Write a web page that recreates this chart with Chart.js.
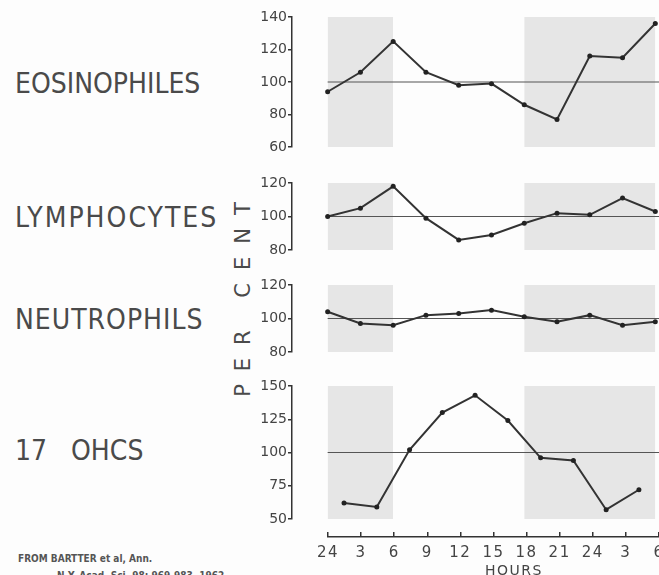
<!DOCTYPE html>
<html>
<head>
<meta charset="utf-8">
<script src="https://cdn.jsdelivr.net/npm/chart.js@4/dist/chart.umd.min.js"></script>
<style>
  html, body { margin: 0; padding: 0; background: #fdfdfd; overflow: hidden; width: 659px; height: 575px; }
  .box { position: absolute; }
  .name {
    position: absolute; left: 15px;
    font-family: "DejaVu Sans Condensed", "DejaVu Sans", sans-serif;
    font-size: 28px; color: #4a4a4a; letter-spacing: 1px; white-space: nowrap;
    line-height: 1;
  }
  .percent {
    position: absolute; left: 243px; top: 293px;
    transform: translate(-50%, -50%) rotate(-90deg);
    font-family: "DejaVu Sans", sans-serif; font-size: 21px; color: #4a4a4a;
    letter-spacing: 13px; white-space: nowrap; line-height: 1;
  }
  .source {
    position: absolute; left: 18px;
    font-family: "DejaVu Sans Condensed", "DejaVu Sans", sans-serif; font-weight: bold; font-size: 10px; color: #555;
    white-space: nowrap;
  }
</style>
</head>
<body>
<div class="name" style="top:70px; letter-spacing:0">EOSINOPHILES</div>
<div class="name" style="top:204px; letter-spacing:2px">LYMPHOCYTES</div>
<div class="name" style="top:306px">NEUTROPHILS</div>
<div class="name" style="top:437px; letter-spacing:0">17<span style="margin-left:24px">OHCS</span></div>
<div class="percent">PER CENT</div>
<div class="source" style="top:553px">FROM BARTTER et al, Ann.</div>
<div class="source" style="top:570px; left:57px">N.Y. Acad. Sci. 98: 969-983, 1962</div>

<div class="box" id="b1" style="left:252px; top:7px; width:448px; height:150px"><canvas id="eosChart"></canvas></div>
<div class="box" id="b2" style="left:252px; top:173px; width:448px; height:87px"><canvas id="lymChart"></canvas></div>
<div class="box" id="b3" style="left:252px; top:275px; width:448px; height:87px"><canvas id="neuChart"></canvas></div>
<div class="box" id="b4" style="left:252px; top:376px; width:448px; height:153px"><canvas id="ohcsChart"></canvas></div>
<div class="box" id="b5" style="left:300px; top:530px; width:400px; height:50px"><canvas id="hourChart"></canvas></div>

<script>
// hours after midnight, sampled every 3 h
const hours = [0, 3, 6, 9, 12, 15, 18, 21, 24, 27, 30];
const eosinophiles = [94, 106, 125, 106, 98, 99, 86, 77, 116, 115, 136];
const lymphocytes = [100, 105, 118, 99, 86, 89, 96, 102, 101, 111, 103];
const neutrophils = [104, 97, 96, 102, 103, 105, 101, 98, 102, 96, 98];

// steroid samples sit in the middle of each 3 h collection
const ohcsHours = [1.5, 4.5, 7.5, 10.5, 13.5, 16.5, 19.5, 22.5, 25.5, 28.5];
const ohcs = [62, 59, 102, 130, 143, 124, 96, 94, 57, 72];

// dark (night) periods
const nightBands = [[0, 6], [18, 30]];

const eosTicks = [60, 80, 100, 120, 140];
const lymTicks = [80, 100, 120];
const neuTicks = [80, 100, 120];
const ohcsTicks = [50, 75, 100, 125, 150];

const hourTicks = [0, 3, 6, 9, 12, 15, 18, 21, 24, 27, 30];
const hourLabels = ['24', '3', '6', '9', '12', '15', '18', '21', '24', '3', '6'];

const INK = '#333';
const SHADE = '#e6e6e6';
const PX_HOUR = 11.03;
const AXIS_W = 40;
// y axis line sits 36px left of hour 0
const xMin = -36 / PX_HOUR;
const xMax = xMin + (448 - AXIS_W) / PX_HOUR;

function makePanel(id, xs, values, ticks) {
    const lo = ticks[0];
    const hi = ticks[ticks.length - 1];

    const bands = nightBands.map(b => ({
        data: [{ x: b[0], y: hi }, { x: b[1], y: hi }],
        borderWidth: 0,
        pointRadius: 0,
        backgroundColor: SHADE,
        fill: 'start',
        order: 3
    }));

    return new Chart(document.getElementById(id), {
        type: 'line',
        data: {
            datasets: [
                ...bands,
                {
                    data: [{ x: 0, y: 100 }, { x: xMax, y: 100 }],
                    borderColor: '#555',
                    borderWidth: 1.2,
                    pointRadius: 0,
                    order: 2
                },
                {
                    data: xs.map((h, i) => ({ x: h, y: values[i] })),
                    borderColor: INK,
                    borderWidth: 2,
                    pointRadius: 2.5,
                    pointBackgroundColor: '#222',
                    pointBorderWidth: 0,
                    tension: 0,
                    order: 1
                }
            ]
        },
        options: {
            responsive: true,
            maintainAspectRatio: false,
            animation: false,
            layout: { padding: { top: 10, bottom: 10 } },
            plugins: { legend: { display: false }, tooltip: { enabled: false } },
            scales: {
                x: { type: 'linear', min: xMin, max: xMax, display: false },
                y: {
                    min: lo,
                    max: hi,
                    afterBuildTicks: s => { s.ticks = ticks.map(v => ({ value: v })); },
                    afterFit: s => { s.width = AXIS_W; },
                    grid: { drawOnChartArea: false, tickLength: 4, color: INK, lineWidth: 1.5 },
                    border: { color: INK, width: 1.5 },
                    ticks: {
                        padding: 1,
                        color: '#444',
                        font: { family: 'DejaVu Sans', size: 14 }
                    }
                }
            }
        }
    });
}

makePanel('eosChart', hours, eosinophiles, eosTicks);
makePanel('lymChart', hours, lymphocytes, lymTicks);
makePanel('neuChart', hours, neutrophils, neuTicks);
makePanel('ohcsChart', ohcsHours, ohcs, ohcsTicks);

// spaced lettering on the time axis
const spacedText = {
    id: 'spacedText',
    beforeDraw(chart) { chart.ctx.letterSpacing = '1.5px'; }
};

// time axis on its own, ticks point up into a thin chart area
new Chart(document.getElementById('hourChart'), {
    type: 'line',
    data: { datasets: [] },
    plugins: [spacedText],
    options: {
        responsive: true,
        maintainAspectRatio: false,
        animation: false,
        layout: { padding: { top: 2, left: 28, right: 0 } },
        plugins: { legend: { display: false }, tooltip: { enabled: false } },
        scales: {
            x: {
                type: 'linear',
                min: 0,
                max: (400 - 28) / PX_HOUR,
                afterBuildTicks: s => { s.ticks = hourTicks.map(v => ({ value: v })); },
                afterFit: s => { s.height = 43; },
                grid: { drawTicks: false, color: INK, lineWidth: 1.5 },
                border: { color: INK, width: 1.5 },
                ticks: {
                    padding: 7,
                    color: '#444',
                    maxRotation: 0,
                    autoSkip: false,
                    font: { family: 'DejaVu Sans', size: 15 },
                    callback: (v, i) => hourLabels[i]
                },
                title: {
                    display: true,
                    text: 'HOURS',
                    color: '#444',
                    padding: { top: 0, bottom: 0 },
                    font: { family: 'DejaVu Sans', size: 14 }
                }
            },
            y: { display: false, min: 0, max: 1 }
        }
    }
});
</script>
</body>
</html>
